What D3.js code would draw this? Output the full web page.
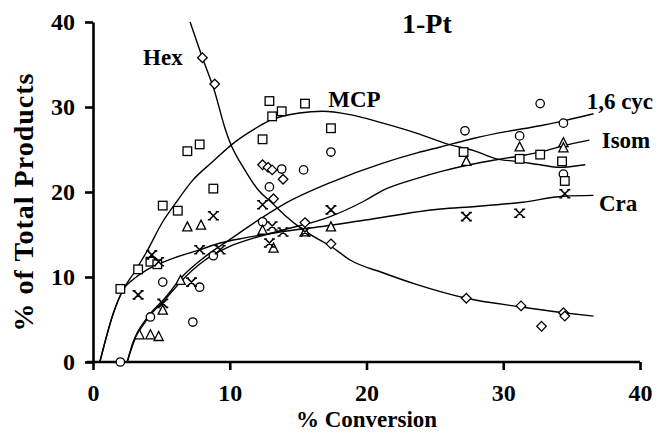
<!DOCTYPE html>
<html>
<head>
<meta charset="utf-8">
<script src="https://cdn.jsdelivr.net/npm/d3@7"></script>
<style>
  html, body { margin: 0; padding: 0; background: #fff; }
  svg text { font-family: "Liberation Serif", "Times New Roman", serif; font-weight: bold; fill: #000; }
</style>
</head>
<body>
<svg id="chart" width="662" height="433"></svg>
<script>
// Axis ticks
const xTicks = [0, 10, 20, 30, 40];
const yTicks = [0, 10, 20, 30, 40];

// Product names
const seriesNames = ["Hex", "MCP", "1,6 cyc", "Isom", "Cra"];

// Measured points: [% conversion, % of total products]
const hexPoints = [[8.0,35.8],[8.9,32.7],[12.4,23.2],[12.8,22.9],[13.1,22.6],[13.9,21.5],[13.2,19.2],[15.5,16.4],[17.4,13.9],[27.3,7.5],[31.3,6.6],[32.8,4.2],[34.4,5.8],[34.5,5.4]];
const mcpPoints = [[2.0,8.6],[3.3,10.9],[4.2,11.8],[4.7,11.5],[5.1,18.4],[6.2,17.8],[6.9,24.8],[7.8,25.6],[8.8,20.4],[12.4,26.2],[12.9,30.7],[13.1,28.9],[13.8,29.5],[15.5,30.4],[17.4,27.5],[27.1,24.7],[31.2,23.9],[32.7,24.4],[34.3,23.6],[34.5,21.3]];
const cycPoints = [[2.0,0.0],[4.2,5.3],[5.1,9.4],[7.3,4.7],[7.8,8.8],[8.8,12.5],[12.4,16.5],[12.9,20.6],[13.8,22.7],[15.4,22.6],[17.4,24.7],[27.2,27.2],[31.2,26.6],[32.7,30.4],[34.4,28.1],[34.4,22.1]];
const isomPoints = [[3.4,3.2],[4.2,3.2],[4.8,3.0],[5.1,6.1],[6.4,9.6],[6.9,15.9],[7.9,16.1],[12.4,15.5],[13.2,13.4],[15.5,15.3],[17.4,15.9],[27.3,23.6],[31.2,25.3],[34.4,25.8],[34.4,25.2]];
const craPoints = [[3.3,7.9],[4.3,12.6],[4.8,11.8],[5.1,6.9],[7.2,9.4],[7.8,13.2],[8.8,17.2],[9.3,13.2],[12.4,18.5],[12.9,14.0],[13.1,16.0],[13.9,15.3],[15.5,15.3],[17.4,17.9],[27.3,17.1],[31.2,17.5],[34.5,19.8]];

// Hand-fitted trend curves
const hexCurve = [[7.1,40],[8.0,35.8],[8.9,31.8],[9.65,27.5],[10.0,25.9],[11.1,22.6],[12.1,20.2],[13.1,18.7],[14.0,17.3],[15.5,15.4],[17.5,13.5],[18.8,12.0],[21.2,10.5],[23.7,9.1],[27.3,7.5],[31.2,6.5],[34.4,5.8],[36.6,5.4]];
const mcpCurve = [[0.5,0],[1.5,5.8],[2.2,8.5],[3.0,10.5],[3.9,12.9],[5.1,16.5],[6.0,18.6],[7.3,21.4],[8.7,23.5],[10.4,25.9],[11.5,27.1],[12.9,28.4],[15.1,29.3],[16.8,29.5],[18.8,29.1],[21.2,28.1],[23.7,26.9],[26.0,25.6],[27.8,24.9],[29.5,23.9],[31.0,23.6],[32.7,23.2],[34.1,22.9],[36.0,23.2]];
const cycCurve = [[2.5,0],[2.9,2.2],[4.0,5.3],[5.3,7.6],[6.5,10.0],[8.2,12.4],[10.0,14.4],[12.0,16.6],[14.0,18.6],[17.5,21.2],[21.2,23.4],[23.7,24.6],[25.4,25.3],[27.8,26.3],[30.2,27.1],[32.7,27.8],[34.5,28.4],[36.6,29.2]];
const isomCurve = [[2.5,0],[3.0,2.4],[4.0,5.1],[5.3,7.4],[6.5,9.6],[8.2,12.0],[10.0,13.6],[12.0,14.7],[14.3,15.7],[17.0,16.9],[19.9,19.0],[21.2,20.2],[23.7,21.6],[25.4,22.4],[27.8,23.3],[29.5,23.8],[31.4,24.3],[33.2,24.9],[34.3,25.4],[36.3,26.1]];
const craCurve = [[0.5,0],[1.5,5.8],[2.2,8.5],[3.0,9.8],[3.9,10.8],[5.85,12.2],[7.8,13.2],[9.3,14.0],[11.1,14.6],[14.6,15.5],[17.0,16.0],[19.9,16.7],[25.4,18.0],[28.0,18.3],[31.4,18.8],[34.4,19.5],[36.6,19.6]];

const svg = d3.select("#chart");
const x = d3.scaleLinear().domain([0, 40]).range([93, 640]);
const y = d3.scaleLinear().domain([0, 40]).range([362, 22]);

// Axes
const xAxis = svg.append("g")
  .attr("transform", `translate(0,${y(0)})`)
  .call(d3.axisBottom(x).tickValues(xTicks).tickSize(8).tickSizeOuter(0).tickPadding(14));
const yAxis = svg.append("g")
  .attr("transform", `translate(${x(0)},0)`)
  .call(d3.axisLeft(y).tickValues(yTicks).tickSize(8).tickSizeOuter(0).tickPadding(10));

[xAxis, yAxis].forEach(g => {
  g.selectAll("path.domain").attr("stroke", "#000").attr("stroke-width", 2.6);
  g.selectAll(".tick line").attr("stroke", "#000").attr("stroke-width", 2.6);
  g.selectAll(".tick text").style("font-size", "24px").attr("fill", "#000");
});
// x axis line runs a little past the y axis
xAxis.select("path.domain").attr("d", `M${x(0) - 6},0H${x(40)}`);

// Axis titles
svg.append("text")
  .attr("x", x(20)).attr("y", 427)
  .attr("text-anchor", "middle")
  .style("font-size", "23px")
  .text("% Conversion");
svg.append("text")
  .attr("transform", `translate(33,202) rotate(-90)`)
  .attr("text-anchor", "middle")
  .style("font-size", "28px")
  .style("letter-spacing", "1px")
  .text("% of Total Products");

// Title
svg.append("text")
  .attr("x", x(22.6)).attr("y", y(38.7))
  .style("font-size", "28px")
  .text("1-Pt");

// Trend curves
const line = d3.line().x(d => x(d[0])).y(d => y(d[1])).curve(d3.curveMonotoneX);
[hexCurve, mcpCurve, cycCurve, isomCurve, craCurve].forEach(c => {
  svg.append("path")
    .attr("d", line(c))
    .attr("fill", "none")
    .attr("stroke", "#000")
    .attr("stroke-width", 1.4);
});

// Marker shapes
const mk = svg.append("g").attr("fill", "#fff").attr("stroke", "#000").attr("stroke-width", 1.3);

mk.selectAll("circle.cyc").data(cycPoints).join("circle")
  .attr("class", "cyc")
  .attr("cx", d => x(d[0])).attr("cy", d => y(d[1])).attr("r", 4.2);

mk.selectAll("rect.mcp").data(mcpPoints).join("rect")
  .attr("class", "mcp")
  .attr("x", d => x(d[0]) - 4.3).attr("y", d => y(d[1]) - 4.3)
  .attr("width", 8.6).attr("height", 8.6);

mk.selectAll("path.isom").data(isomPoints).join("path")
  .attr("class", "isom")
  .attr("transform", d => `translate(${x(d[0])},${y(d[1])})`)
  .attr("d", "M0,-5L4.6,4L-4.6,4Z");

mk.selectAll("path.hex").data(hexPoints).join("path")
  .attr("class", "hex")
  .attr("transform", d => `translate(${x(d[0])},${y(d[1])})`)
  .attr("d", "M0,-4.8L4.8,0L0,4.8L-4.8,0Z");

mk.selectAll("path.cra").data(craPoints).join("path")
  .attr("class", "cra")
  .attr("fill", "none")
  .attr("stroke-width", 1.6)
  .attr("transform", d => `translate(${x(d[0])},${y(d[1])})`)
  .attr("d", "M-4,-4L4,4M-4,4L4,-4M-5.5,-4H-2.5M2.5,-4H5.5M-5.5,4H-2.5M2.5,4H5.5");

// Series labels
const labelAt = {"Hex": [3.66, 34.9], "MCP": [17.2, 30.0], "1,6 cyc": [36.1, 29.8], "Isom": [37.2, 25.2], "Cra": [37.0, 17.8]};
svg.append("g").selectAll("text").data(seriesNames).join("text")
  .attr("x", d => x(labelAt[d][0]))
  .attr("y", d => y(labelAt[d][1]))
  .style("font-size", "23px")
  .text(d => d);
</script>
</body>
</html>
